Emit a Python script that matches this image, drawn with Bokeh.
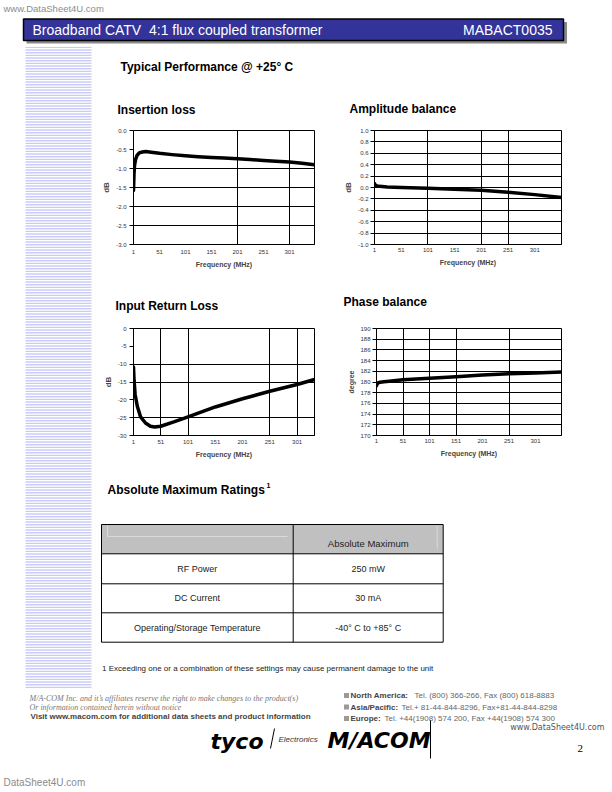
import numpy as np
from bokeh.plotting import figure
from bokeh.layouts import column, row
from bokeh.models import Range1d, FixedTicker, PrintfTickFormatter
from bokeh.core.properties import value
from bokeh.embed import file_html
from bokeh.resources import INLINE

FONT = "Liberation Sans"
SERIF = "Liberation Serif"

# ---------------- text content ----------------
watermark_top = "www.DataSheet4U.com"
watermark_bottom = "DataSheet4U.com"
header_title = "Broadband CATV\u00a0 4:1 flux coupled transformer"
part_number = "MABACT0035"
section_title = "Typical Performance @ +25\u00b0 C"
chart_titles = ["Insertion loss", "Amplitude balance", "Input Return Loss", "Phase balance"]
freq_label = "Frequency (MHz)"
x_ticks = [1, 51, 101, 151, 201, 251, 301]

# ---------------- chart data ----------------
il_freq = [1, 2, 3, 5, 8, 12, 18, 25, 35, 51, 75, 101, 125, 151, 175, 201, 225, 251, 275, 301, 325, 349]
il_db = [-1.58, -1.15, -0.92, -0.76, -0.65, -0.59, -0.565, -0.555, -0.57, -0.6, -0.635, -0.665,
         -0.69, -0.71, -0.725, -0.745, -0.765, -0.79, -0.81, -0.83, -0.86, -0.9]
il_yticks = [0.0, -0.5, -1.0, -1.5, -2.0, -2.5, -3.0]

ab_freq = [1, 2, 4, 10, 25, 51, 101, 151, 201, 251, 301, 351]
ab_db = [0.07, 0.05, 0.03, 0.02, 0.01, 0.0, -0.015, -0.03, -0.05, -0.085, -0.125, -0.175]
ab_yticks = [1.0, 0.8, 0.6, 0.4, 0.2, 0.0, -0.2, -0.4, -0.6, -0.8, -1.0]

irl_freq = [1, 2, 4, 8, 14, 23, 32, 40, 51, 75, 101, 151, 201, 251, 301, 333]
irl_db = [-10.8, -14.5, -18.5, -21.8, -24.8, -26.5, -27.4, -27.6, -27.4, -26.2, -24.8,
          -22.0, -19.7, -17.6, -15.7, -14.3]
irl_yticks = [0, -5, -10, -15, -20, -25, -30]

pb_freq = [1, 2, 4, 8, 15, 25, 51, 101, 151, 201, 251, 301, 350]
pb_deg = [179.3, 179.6, 179.85, 179.95, 180.05, 180.15, 180.4, 180.7, 181.0, 181.3, 181.55, 181.7, 181.85]
pb_yticks = [190, 188, 186, 184, 182, 180, 178, 176, 174, 172, 170]

# ---------------- table ----------------
table_title = "Absolute Maximum Ratings"
table_header = "Absolute Maximum"
table_params = ["RF Power", "DC Current", "Operating/Storage Temperature"]
table_values = ["250 mW", "30 mA", "-40\u00b0 C to +85\u00b0 C"]
footnote = "1 Exceeding one or a combination of these settings may cause permanent damage to the unit"

# ---------------- footer ----------------
disclaimer = ["M/A-COM Inc. and it\u2019s affiliates reserve the right to make changes to the product(s)",
              "Or information contained herein without notice"]
visit_line = "Visit www.macom.com for additional data sheets and product information"
region_names = ["North America:", "Asia/Pacific:", "Europe:"]
region_phones = ["Tel. (800) 366-266, Fax (800) 618-8883",
                 "Tel.+ 81-44-844-8296, Fax+81-44-844-8298",
                 "Tel. +44(1908) 574 200, Fax +44(1908) 574 300"]
page_number = "2"

W = 608  # layout right edge (page pixels)


def canvas(x0, x1, y0, y1):
    p = figure(width=x1 - x0, height=y1 - y0, x_range=Range1d(x0, x1), y_range=Range1d(y1, y0),
               output_backend="svg", toolbar_location=None,
               x_axis_location=None, y_axis_location=None, min_border=0)
    p.outline_line_color = None
    p.grid.visible = False
    p.xgrid.grid_line_color = None
    p.ygrid.grid_line_color = None
    p.background_fill_color = "white"
    p.border_fill_color = "white"
    return p


def txt(p, x, y, s, size, color="black", style="normal", align="left", font=FONT, baseline="middle"):
    p.text(x=[x], y=[y], text=[s], text_font=value(font), text_font_size=f"{size}px",
           text_font_style=style, text_color=color, text_align=align, text_baseline=baseline)


def chart(x0, x1, y0, y1, fl, fr, ft, fb, xmax, ylo, yhi, yticks, yfmt, xgrid, ygrid,
          ylabel, xs, ys, xstand, ystand):
    p = figure(width=x1 - x0, height=y1 - y0, x_range=Range1d(1, xmax), y_range=Range1d(ylo, yhi),
               output_backend="svg", toolbar_location=None,
               min_border_left=fl - x0, min_border_right=x1 - fr,
               min_border_top=ft - y0, min_border_bottom=y1 - fb)
    p.outline_line_color = "black"
    p.outline_line_width = 1
    p.background_fill_color = "white"
    p.border_fill_color = "white"
    p.xaxis.ticker = FixedTicker(ticks=x_ticks)
    p.yaxis.ticker = FixedTicker(ticks=yticks)
    p.yaxis.formatter = PrintfTickFormatter(format=yfmt)
    p.xgrid.ticker = FixedTicker(ticks=xgrid)
    p.ygrid.ticker = FixedTicker(ticks=ygrid)
    p.grid.grid_line_color = "black"
    p.grid.grid_line_width = 1
    for ax in p.axis:
        ax.axis_line_color = "black"
        ax.major_label_text_font = FONT
        ax.major_label_text_font_size = "6px"
        ax.major_label_text_color = "#333333"
        ax.axis_label_text_font = FONT
        ax.axis_label_text_font_style = "bold"
        ax.minor_tick_line_color = None
        ax.major_tick_in = 0
    p.xaxis.major_tick_out = 0
    p.xaxis.major_label_standoff = xstand
    p.xaxis.axis_label = freq_label
    p.xaxis.axis_label_text_font_size = "7px"
    p.xaxis.axis_label_standoff = 4
    p.yaxis.major_tick_out = 4
    p.yaxis.major_tick_line_color = "black"
    p.yaxis.major_label_standoff = ystand
    p.yaxis.axis_label = ylabel
    p.yaxis.axis_label_text_font_size = "8px" if ylabel == "dB" else "7px"
    p.yaxis.axis_label_standoff = 2
    p.line(xs, ys, line_width=3.5, line_color="black", line_cap="round", line_join="round")
    return p


# ---------------- top band ----------------
top = canvas(0, W, 0, 46)
txt(top, 3, 8, watermark_top, 9.5, color="#8c8c8c")
top.quad(left=[26], right=[566.5], top=[21.5], bottom=[43], fill_color="#8a8a8a", line_color=None)
top.quad(left=[23], right=[563], top=[18.5], bottom=[40], fill_color="#333399", line_color="black", line_width=1.5)
txt(top, 32, 29.5, header_title, 14, color="white")
txt(top, 552, 29.5, part_number, 14, color="white", align="right")

# ---------------- left stripes ----------------
stripes = canvas(0, 98, 46, 690)
stripe_y = np.arange(46.2, 688, 8 / 3)
stripes.quad(left=25, right=91, top=stripe_y, bottom=stripe_y + 1.35, fill_color="#cbcbf8", line_color=None)

# ---------------- titles ----------------
b1 = canvas(98, W, 46, 120)
txt(b1, 120, 66, section_title, 12, style="bold")
txt(b1, 117, 109.5, chart_titles[0], 12, style="bold")
txt(b1, 349, 108, chart_titles[1], 12, style="bold")

il = chart(98, 338, 120, 280, 133, 314, 130, 244, 349, -3.0, 0.0, il_yticks, "%.1f",
           [201, 301], [-1.0, -1.5, -2.0, -2.5], "dB", il_freq, il_db, 5, 3)
ab = chart(338, W, 120, 280, 374, 561, 129, 249, 351, -1.0, 1.0, ab_yticks, "%.1f",
           [101, 201, 251], [0.8, 0.6, 0.4, 0.2, 0.0, -0.2, -0.4, -0.6, -0.8], "dB", ab_freq, ab_db, 3, 2)

b3 = canvas(98, W, 280, 318)
txt(b3, 115, 305, chart_titles[2], 12, style="bold")
txt(b3, 343, 301, chart_titles[3], 12, style="bold")

irl = chart(98, 338, 318, 470, 133, 314, 328, 435, 333, -30, 0, irl_yticks, "%d",
            [51, 101, 251, 301], [-10, -15, -25], "dB", irl_freq, irl_db, 4, 3)
pb = chart(338, W, 318, 470, 376, 561, 328, 438, 350, 170, 190, pb_yticks, "%d",
           [51, 101, 151, 251], [188, 186, 184, 182, 180, 178, 176, 174, 172], "degree", pb_freq, pb_deg, 3, 2)

# ---------------- table ----------------
b5 = canvas(98, W, 470, 690)
txt(b5, 107, 489, table_title, 12, style="bold")
txt(b5, 266, 485, "1", 7, style="bold")
tl, tm, tr = 101, 292.7, 442.7
row_edges = [524, 553.3, 583.3, 612.3, 641.7]
b5.quad(left=[tl], right=[tr], top=[row_edges[0]], bottom=[row_edges[1]], fill_color="#c0c0c0", line_color=None)
b5.line([107, 107, 287], [525, 536, 536], line_color="#dadada", line_width=1)
b5.line([436.7, 436.7], [525, 548], line_color="#dadada", line_width=1)
b5.quad(left=[tl], right=[tr], top=[row_edges[0]], bottom=[row_edges[-1]], fill_color=None, line_color="black", line_width=1)
for yy in row_edges[1:-1]:
    b5.line([tl, tr], [yy, yy], line_color="black", line_width=1)
b5.line([tm, tm], [row_edges[0], row_edges[-1]], line_color="black", line_width=1)
txt(b5, (tm + tr) / 2, 543, table_header, 9.5, color="#222222", align="center")
for i, (pname, pval) in enumerate(zip(table_params, table_values)):
    yc = (row_edges[i + 1] + row_edges[i + 2]) / 2
    txt(b5, (tl + tm) / 2, yc, pname, 9, color="#222222", align="center")
    txt(b5, (tm + tr) / 2, yc, pval, 9, color="#222222", align="center")
txt(b5, 101.5, 668, footnote, 8, color="#222222")

content = column(b1, row(il, ab), b3, row(irl, pb), b5)
middle = row(stripes, content)

# ---------------- footer ----------------
foot = canvas(0, W, 690, 790)
txt(foot, 29, 698, disclaimer[0], 8, color="#777777", style="italic", font=SERIF)
txt(foot, 29, 707, disclaimer[1], 8, color="#777777", style="italic", font=SERIF)
txt(foot, 30, 716, visit_line, 8, color="#444444", style="bold")
reg_y = [695, 706.5, 718]
reg_tel_x = [414, 401, 384]
for yy, nm, ph, tx in zip(reg_y, region_names, region_phones, reg_tel_x):
    foot.quad(left=[343.5], right=[348.5], top=[yy - 2.5], bottom=[yy + 2.5], fill_color="#9a9a9a", line_color=None)
    txt(foot, 350, yy, nm, 8, color="#444444", style="bold")
    txt(foot, tx, yy, ph, 8, color="#666666")
txt(foot, 604, 727, watermark_top, 8, color="#555555", align="right", font="DejaVu Sans")
txt(foot, 210, 741, "tyco", 22, color="black", style="bold italic", font="DejaVu Sans")
foot.line([270, 274], [748, 728], line_color="black", line_width=1)
txt(foot, 278, 739, "Electronics", 8, color="#333333", style="italic")
txt(foot, 327, 740, "M/ACOM", 22, color="black", style="bold italic", font="DejaVu Sans")
foot.line([430, 430], [720, 758], line_color="black", line_width=1)
txt(foot, 577, 748, page_number, 11, color="black", font=SERIF)
txt(foot, 3, 782, watermark_bottom, 10, color="#8c8c8c")

page = column(top, middle, foot)

open("out.html", "w").write(file_html(page, INLINE))
